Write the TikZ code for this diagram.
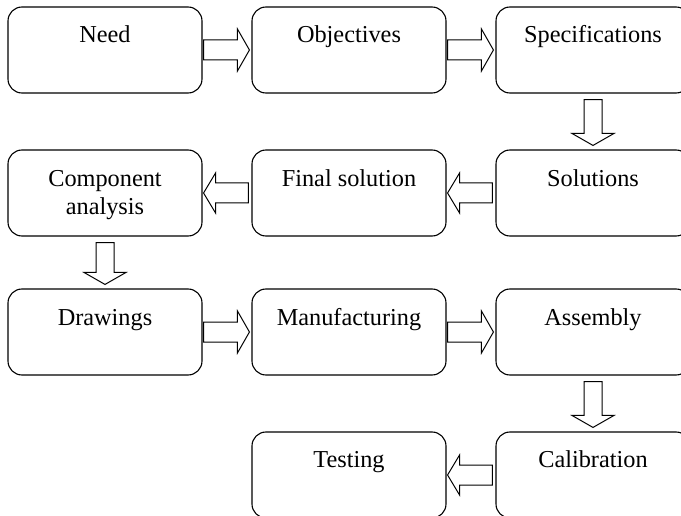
\documentclass[tikz,border=0pt]{standalone}
\usepackage{fontspec}
\setmainfont{Liberation Serif}
\usetikzlibrary{calc}
\newcommand\myRarr[2]{\draw[blk] let \p1=(#1.east), \p2=(#2.west) in
  (\x1+1pt,\y1+10pt) -- (\x2-14pt,\y1+10pt) -- (\x2-14pt,\y1+21pt) -- (\x2-2pt,\y1)
  -- (\x2-14pt,\y1-21pt) -- (\x2-14pt,\y1-10pt) -- (\x1+1pt,\y1-10pt) -- cycle;}
\newcommand\myLarr[2]{\draw[blk] let \p1=(#1.west), \p2=(#2.east) in
  (\x1-3pt,\y1+10pt) -- (\x2+13pt,\y1+10pt) -- (\x2+13pt,\y1+20pt) -- (\x2+1pt,\y1)
  -- (\x2+13pt,\y1-20pt) -- (\x2+13pt,\y1-10pt) -- (\x1-3pt,\y1-10pt) -- cycle;}
\newcommand\myDarr[2]{\draw[blk] let \p1=(#1.south), \p2=(#2.north) in
  (\x1-9pt,\y1-6pt) -- (\x1-9pt,\y2+16pt) -- (\x1-21pt,\y2+16pt) -- (\x1,\y2+4pt)
  -- (\x1+21pt,\y2+16pt) -- (\x1+9pt,\y2+16pt) -- (\x1+9pt,\y1-6pt) -- cycle;}
\begin{document}
\begin{tikzpicture}[x=1pt,y=-1pt,
  box/.style={draw, line width=1.1pt, rounded corners=14pt, minimum width=194pt,
    minimum height=86pt, inner sep=0pt},
  lbl/.style={font=\fontsize{24.3}{28}\selectfont, align=center, anchor=base, inner sep=0pt},
  blk/.style={draw, line width=1pt, fill=white, line join=miter}]
\clip (0,0) rectangle (681,516);
\fill[white] (0,0) rectangle (681,516);
% boxes
\node[box] (need) at (105,50) {};
\node[box] (obj)  at (349,50) {};
\node[box] (spec) at (593,50) {};
\node[box] (comp) at (105,193) {};
\node[box] (fin)  at (349,193) {};
\node[box] (sol)  at (593,193) {};
\node[box] (draw) at (105,332) {};
\node[box] (manu) at (349,332) {};
\node[box] (ass)  at (593,332) {};
\node[box] (test) at (349,475) {};
\node[box] (cal)  at (593,475) {};
% labels
\node[lbl] (needT) at ([yshift=-36pt]need.north) {Need};
\node[lbl] (objT)  at ([yshift=-36pt]obj.north) {Objectives};
\node[lbl] (specT) at ([yshift=-36pt]spec.north) {Specifications};
\node[lbl] (compT) at ([yshift=-65pt]comp.north) {Component\\analysis};
\node[lbl] (finT)  at ([yshift=-37pt]fin.north) {Final solution};
\node[lbl] (solT)  at ([yshift=-37pt]sol.north) {Solutions};
\node[lbl] (drawT) at ([yshift=-37pt]draw.north) {Drawings};
\node[lbl] (manuT) at ([yshift=-37pt]manu.north) {Manufacturing};
\node[lbl] (assT)  at ([yshift=-37pt]ass.north) {Assembly};
\node[lbl] (testT) at ([yshift=-36pt]test.north) {Testing};
\node[lbl] (calT)  at ([yshift=-36pt]cal.north) {Calibration};
% arrows
\myRarr{need}{obj}
\myRarr{obj}{spec}
\myDarr{spec}{sol}
\myLarr{sol}{fin}
\myLarr{fin}{comp}
\myDarr{comp}{draw}
\myRarr{draw}{manu}
\myRarr{manu}{ass}
\myDarr{ass}{cal}
\myLarr{cal}{test}
\end{tikzpicture}
\end{document}
